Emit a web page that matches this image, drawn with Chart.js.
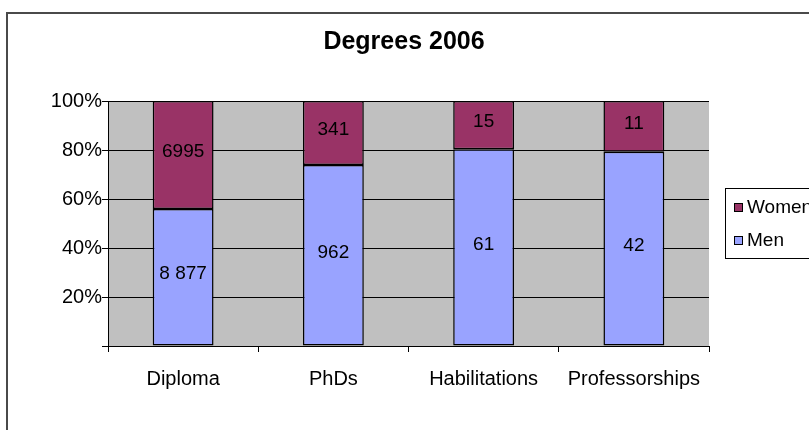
<!DOCTYPE html>
<html>
<head>
<meta charset="utf-8">
<title>Degrees 2006</title>
<script src="https://cdn.jsdelivr.net/npm/chart.js@4.4.1/dist/chart.umd.min.js"></script>
<style>
  html, body { margin: 0; padding: 0; background: #fff; }
  #wrap { width: 809px; height: 430px; }
</style>
</head>
<body>
<div id="wrap"><canvas id="degreesChart" width="809" height="430"></canvas></div>
<script>
/*---- data ----- */
var chartTitle = "Degrees 2006";
var categories = ["Diploma", "PhDs", "Habilitations", "Professorships"];
var menCounts = [8877, 962, 61, 42];
var womenCounts = [6995, 341, 15, 11];
var yTicks = [0, 20, 40, 60, 80, 100];

// share of each group in percent, so every column fills 100%
function share(part, other) {
	return part.map(function (v, i) { return v / (v + other[i]) * 100; });
}

var fontFamily = "'Liberation Sans', Arial, sans-serif";

/*---- frame, title, grey plot area, segment labels, legend ----- */
var excelLook = {
	id: 'excelLook',
	beforeDraw: function (chart) {
		var c = chart.ctx, a = chart.chartArea;
		c.save();
		c.fillStyle = '#c0c0c0';
		c.fillRect(a.left, a.top, a.right - a.left, a.bottom - a.top);
		c.strokeStyle = '#4a4a4a';
		c.lineWidth = 2;
		c.beginPath();
		c.moveTo(7, 430);
		c.lineTo(7, 13);
		c.lineTo(809, 13);
		c.stroke();
		c.font = 'bold 25px ' + fontFamily;
		c.fillStyle = '#000';
		c.textAlign = 'center';
		c.textBaseline = 'middle';
		c.fillText(chartTitle, 404, 42);
		c.restore();
	},
	afterDatasetsDraw: function (chart) {
		var c = chart.ctx;
		c.save();
		c.font = '19px ' + fontFamily;
		c.fillStyle = '#000';
		c.textAlign = 'center';
		c.textBaseline = 'middle';
		chart.data.datasets.forEach(function (ds, di) {
			chart.getDatasetMeta(di).data.forEach(function (bar, i) {
				var mid = (bar.y + bar.base) / 2;
				c.fillText(ds.labelFormat(ds.counts[i]), bar.x, mid - 3);
			});
		});
		c.restore();
	},
	afterDraw: function (chart) {
		var c = chart.ctx;
		var x = 725, y = 188, w = 100, h = 70;
		c.save();
		c.fillStyle = '#fff';
		c.fillRect(x, y, w, h);
		c.strokeStyle = '#000';
		c.lineWidth = 1;
		c.strokeRect(x + 0.5, y + 0.5, w, h);
		c.font = '19px ' + fontFamily;
		c.textBaseline = 'middle';
		var items = chart.data.datasets.slice().reverse();
		items.forEach(function (ds, i) {
			var ly = y + 19 + i * 33;
			c.fillStyle = ds.backgroundColor;
			c.fillRect(734, ly - 4, 9, 9);
			c.strokeStyle = '#000';
			c.strokeRect(734.5, ly - 3.5, 8, 8);
			c.fillStyle = '#000';
			c.fillText(ds.label, 747, ly + 1);
		});
		c.restore();
	}
};

var ctx = document.getElementById('degreesChart').getContext('2d');
var degreesChart = new Chart(ctx, {
	type: 'bar',
	data: {
		labels: categories,
		datasets: [{
			label: "Men",
			counts: menCounts,
			labelFormat: function (v) { return v.toLocaleString('en-US').replace(/,/g, ' '); },
			data: share(menCounts, womenCounts),
			backgroundColor: '#99a3ff',
			borderColor: '#000',
			borderWidth: 1.5,
			borderSkipped: false,
			barPercentage: 0.405,
			categoryPercentage: 1
		}, {
			label: "Women",
			counts: womenCounts,
			labelFormat: function (v) { return String(v); },
			data: share(womenCounts, menCounts),
			backgroundColor: '#993366',
			borderColor: '#000',
			borderWidth: 1.5,
			borderSkipped: false,
			barPercentage: 0.405,
			categoryPercentage: 1
		}]
	},
	options: {
		responsive: false,
		animation: false,
		layout: { padding: { left: 0, right: 100, top: 101, bottom: 0 } },
		plugins: {
			legend: { display: false },
			tooltip: { enabled: false },
			title: { display: false }
		},
		scales: {
			x: {
				stacked: true,
				afterFit: function (s) { s.height = 84; },
				grid: { offset: true, drawOnChartArea: false, color: '#000', tickLength: 6 },
				border: { color: '#000' },
				ticks: { color: '#000', font: { family: fontFamily, size: 20 }, padding: 15 }
			},
			y: {
				stacked: true,
				min: 0,
				max: 100,
				afterFit: function (s) { s.width = 108; },
				afterBuildTicks: function (s) { s.ticks = yTicks.map(function (v) { return { value: v }; }); },
				grid: { color: '#000', tickLength: 6 },
				border: { color: '#000' },
				ticks: {
					color: '#000',
					font: { family: fontFamily, size: 20 },
					padding: 0,
					callback: function (v) { return v === 0 ? '' : v + '%'; }
				}
			}
		}
	},
	plugins: [excelLook]
});
</script>
</body>
</html>
